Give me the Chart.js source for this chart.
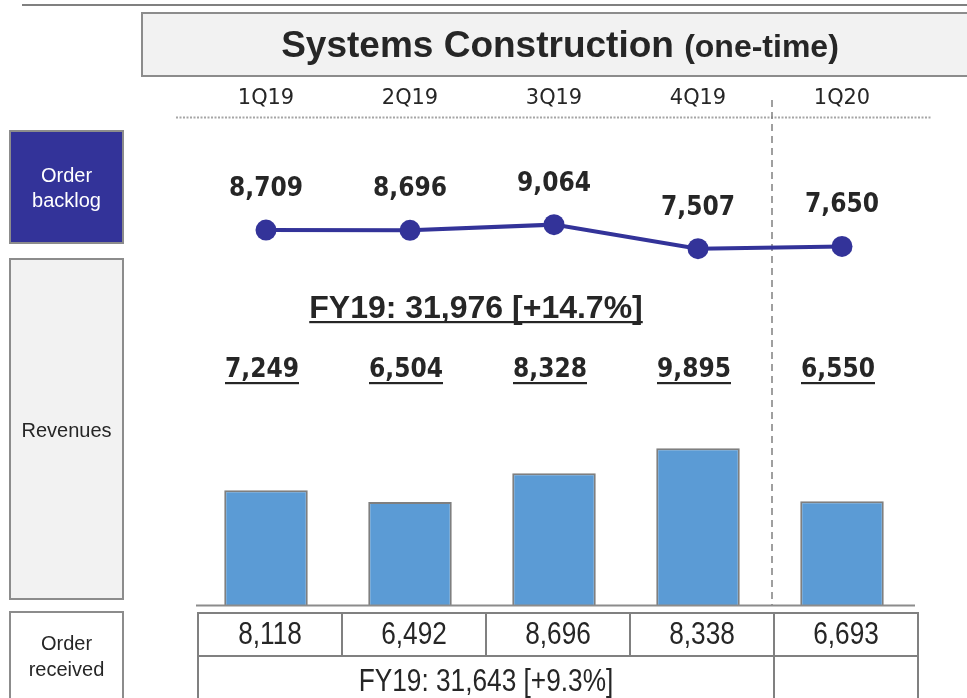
<!DOCTYPE html>
<html>
<head>
<meta charset="utf-8">
<script src="https://cdn.jsdelivr.net/npm/chart.js@4.4.1/dist/chart.umd.min.js"></script>
<style>
html,body{margin:0;padding:0;background:#fff;}
#wrap{position:relative;width:967px;height:698px;overflow:hidden;}
canvas{position:absolute;left:0;top:0;}
</style>
</head>
<body>
<div id="wrap"><canvas id="c" width="967" height="698"></canvas></div>
<script>
// ---- data ----
const categories = ['1Q19', '2Q19', '3Q19', '4Q19', '1Q20'];
const orderBacklog = [8709, 8696, 9064, 7507, 7650];
const revenues = [7249, 6504, 8328, 9895, 6550];
const ordersReceived = [8118, 6492, 8696, 8338, 6693];
const titleMain = 'Systems Construction';
const titleSub = '(one-time)';
const fyRevenueText = 'FY19: 31,976 [+14.7%]';
const fyOrdersText = 'FY19: 31,643 [+9.3%]';
const rowLabelBacklog = ['Order', 'backlog'];
const rowLabelRevenues = ['Revenues'];
const rowLabelOrders = ['Order', 'received'];

// ---- style ----
const W = 967, H = 698;
const ink = '#262626';
const gray = '#808080';
const boxBorder = '#8c8c8c';
const boxFill = '#f2f2f2';
const navy = '#333399';
const barBlue = '#5b9bd5';
const fmt = v => v.toLocaleString('en-US');
const ARIAL = '"Liberation Sans", Arial, sans-serif';
const LABELF = '"DejaVu Sans Condensed", "DejaVu Sans", Verdana, sans-serif';

function box(ctx, x, y, w, h, fill, stroke) {
  ctx.fillStyle = fill;
  ctx.fillRect(x, y, w, h);
  ctx.strokeStyle = stroke;
  ctx.lineWidth = 2;
  ctx.strokeRect(x + 1, y + 1, w - 2, h - 2);
}
function lines(ctx, arr, cx, firstBaseline, step) {
  arr.forEach((t, i) => ctx.fillText(t, cx, firstBaseline + i * step));
}
function narrowText(ctx, t, cx, y, sx) {
  ctx.save();
  ctx.translate(cx, y);
  ctx.scale(sx, 1);
  ctx.fillText(t, 0, 0);
  ctx.restore();
}
function hline(ctx, x1, x2, y, color, lw, dash) {
  ctx.beginPath();
  ctx.setLineDash(dash || []);
  ctx.strokeStyle = color; ctx.lineWidth = lw;
  ctx.moveTo(x1, y); ctx.lineTo(x2, y); ctx.stroke();
  ctx.setLineDash([]);
}
function vline(ctx, x, y1, y2, color, lw, dash) {
  ctx.beginPath();
  ctx.setLineDash(dash || []);
  ctx.strokeStyle = color; ctx.lineWidth = lw;
  ctx.moveTo(x, y1); ctx.lineTo(x, y2); ctx.stroke();
  ctx.setLineDash([]);
}

const decor = {
  id: 'decor',
  beforeDraw(chart) {
    const ctx = chart.ctx;
    const xs = chart.scales.x;
    const step = xs.getPixelForValue(1) - xs.getPixelForValue(0);
    ctx.save();
    ctx.fillStyle = '#fff';
    ctx.fillRect(0, 0, W, H);
    // top rule
    ctx.fillStyle = gray;
    ctx.fillRect(22, 4, W - 22, 2);
    // title box
    box(ctx, 141, 12, W + 10 - 141, 65, boxFill, boxBorder);
    ctx.fillStyle = ink;
    ctx.textAlign = 'left';
    ctx.textBaseline = 'alphabetic';
    ctx.font = 'bold 37px ' + ARIAL;
    const w1 = ctx.measureText(titleMain + ' ').width;
    ctx.font = 'bold 32px ' + ARIAL;
    const w2 = ctx.measureText(titleSub).width;
    const tx = 560 - (w1 + w2) / 2;
    ctx.font = 'bold 37px ' + ARIAL;
    ctx.fillText(titleMain, tx, 57);
    ctx.font = 'bold 32px ' + ARIAL;
    ctx.fillText(titleSub, tx + w1, 57);

    // left row-label boxes
    box(ctx, 9, 130, 115, 114, navy, boxBorder);
    box(ctx, 9, 258, 115, 342, boxFill, boxBorder);
    box(ctx, 9, 611, 115, 100, '#ffffff', boxBorder);
    ctx.textAlign = 'center';
    ctx.font = '20px ' + ARIAL;
    ctx.fillStyle = '#ffffff';
    lines(ctx, rowLabelBacklog, 66.5, 182, 25);
    ctx.fillStyle = ink;
    lines(ctx, rowLabelRevenues, 66.5, 437, 25);
    lines(ctx, rowLabelOrders, 66.5, 650, 26);

    // quarter labels
    ctx.font = '22px "DejaVu Sans", Verdana, sans-serif';
    ctx.fillStyle = ink;
    categories.forEach((c, i) => narrowText(ctx, c, xs.getPixelForValue(i), 104, 0.95));

    // dotted rule
    hline(ctx, 176, 931, 117.5, '#a6a6a6', 2, [2, 1.5]);

    // dashed separator between fiscal years
    const sepX = (xs.getPixelForValue(3) + xs.getPixelForValue(4)) / 2 + 2;
    vline(ctx, sepX, 100, 606, '#808080', 1.5, [7, 5]);

    // table
    const bounds = [];
    for (let i = 0; i <= categories.length; i++) {
      bounds.push(Math.round(xs.getPixelForValue(0) - step / 2 + i * step) + 4);
    }
    const tTop = 612, tMid = 656, tBot = H + 5;
    hline(ctx, bounds[0] - 1, bounds[bounds.length - 1] + 1, tTop + 1, gray, 2);
    hline(ctx, bounds[0] - 1, bounds[bounds.length - 1] + 1, tMid, gray, 2);
    bounds.forEach(b => vline(ctx, b, tTop, tMid, gray, 2));
    [bounds[0], bounds[4], bounds[5]].forEach(b => vline(ctx, b, tMid, tBot, gray, 2));
    ctx.font = '32px ' + ARIAL;
    ctx.fillStyle = ink;
    ordersReceived.forEach((v, i) => narrowText(ctx, fmt(v), (bounds[i] + bounds[i + 1]) / 2, 644, 0.82));
    narrowText(ctx, fyOrdersText, (bounds[0] + bounds[4]) / 2, 691, 0.82);
    ctx.restore();
  },
  afterDatasetsDraw(chart) {
    const ctx = chart.ctx;
    ctx.save();
    // baseline axis
    hline(ctx, 196, 915, 605.5, boxBorder, 2);

    ctx.fillStyle = ink;
    ctx.strokeStyle = ink;
    ctx.textAlign = 'center';
    ctx.textBaseline = 'alphabetic';
    // backlog labels above points
    ctx.font = 'bold 26px ' + LABELF;
    const lineMeta = chart.getDatasetMeta(1);
    lineMeta.data.forEach((p, i) => {
      ctx.fillText(fmt(orderBacklog[i]), p.x, p.y - 34);
    });
    // FY revenue summary (underlined)
    ctx.font = 'bold 32px ' + ARIAL;
    ctx.fillText(fyRevenueText, 476, 318);
    const fw = ctx.measureText(fyRevenueText).width;
    ctx.fillRect(476 - fw / 2, 321, fw, 2.2);
    // revenue labels (underlined)
    ctx.font = 'bold 26px ' + LABELF;
    const barMeta = chart.getDatasetMeta(0);
    barMeta.data.forEach((b, i) => {
      const t = fmt(revenues[i]);
      const w = ctx.measureText(t).width;
      ctx.fillText(t, b.x - 4, 377);
      ctx.fillRect(b.x - 4 - w / 2, 382, w, 2.2);
    });
    ctx.restore();
  }
};

new Chart(document.getElementById('c'), {
  data: {
    labels: categories,
    datasets: [
      {
        type: 'bar',
        label: 'Revenues',
        data: revenues,
        yAxisID: 'y',
        backgroundColor: barBlue,
        borderColor: '#7f7f7f',
        borderWidth: 2,
        borderSkipped: 'bottom',
        barPercentage: 0.58,
        categoryPercentage: 1.0,
        order: 2
      },
      {
        type: 'line',
        label: 'Order backlog',
        data: orderBacklog,
        yAxisID: 'y2',
        borderColor: navy,
        backgroundColor: navy,
        borderWidth: 4,
        pointRadius: 10.5,
        pointBorderWidth: 0,
        pointBackgroundColor: navy,
        tension: 0,
        order: 1
      }
    ]
  },
  options: {
    responsive: false,
    animation: false,
    layout: { padding: { left: 194, right: 53, top: 130, bottom: 93 } },
    plugins: { legend: { display: false }, tooltip: { enabled: false }, title: { display: false } },
    scales: {
      x: { display: false, offset: true, grid: { display: false } },
      y: { display: false, min: 0, max: 30000 },
      y2: { display: false, min: -15600, max: 15200 }
    }
  },
  plugins: [decor]
});
</script>
</body>
</html>
